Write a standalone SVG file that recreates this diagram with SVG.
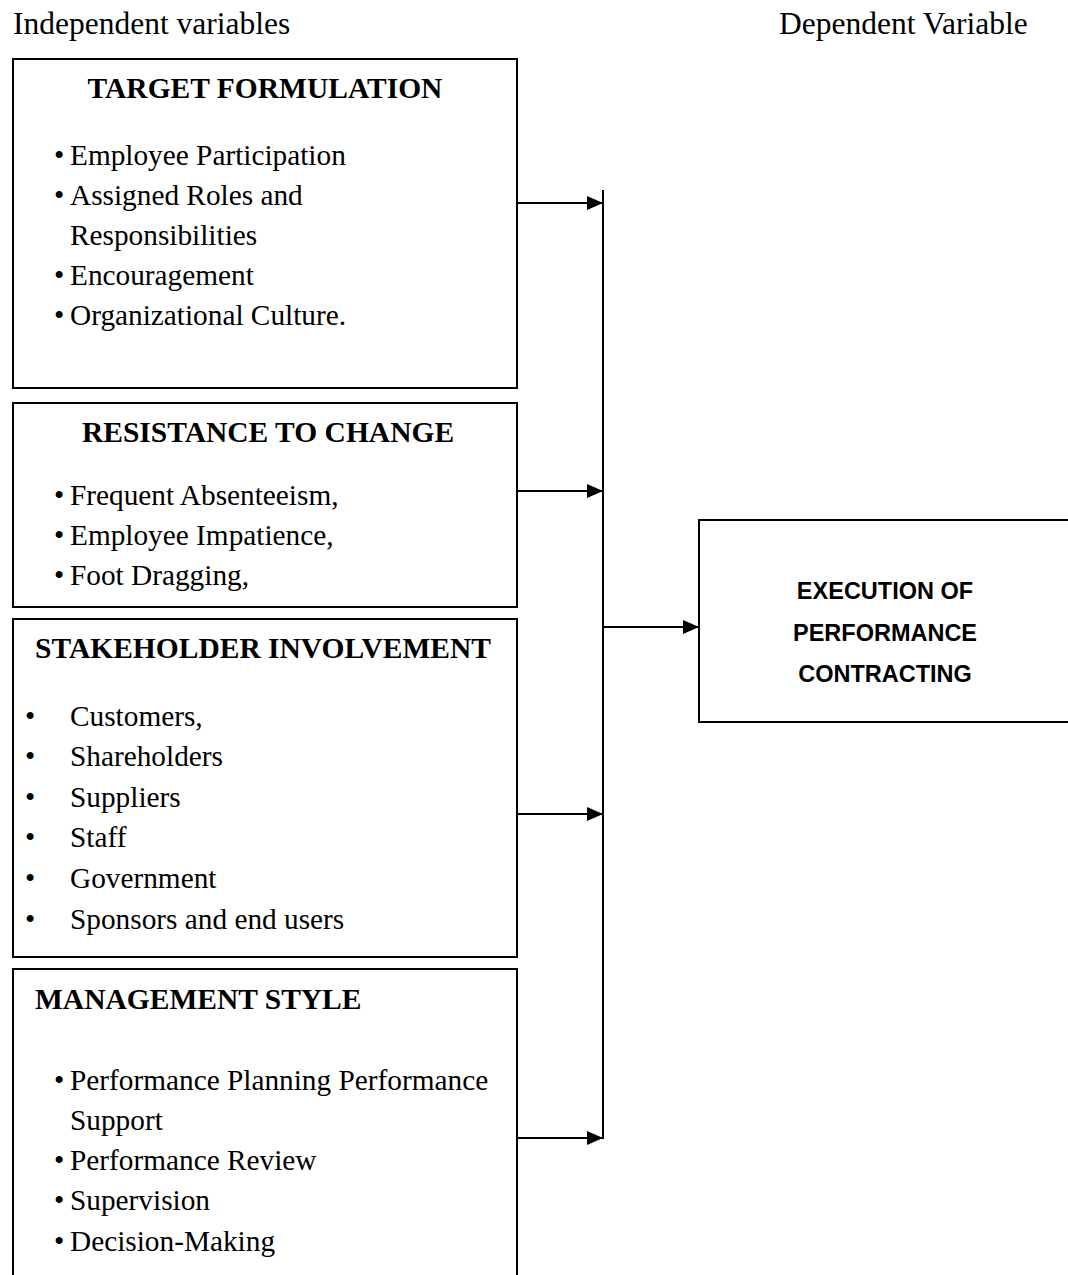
<svg xmlns="http://www.w3.org/2000/svg" width="1068" height="1275" viewBox="0 0 1068 1275">
<style>
text{font-family:"Liberation Serif","Times New Roman",serif;fill:#000}
.hdr{font-size:31.5px}
.t{font-size:29.5px;font-weight:bold}
.b{font-size:29.3px}
.box{fill:#fff;stroke:#000;stroke-width:2}
.c{stroke:#000;stroke-width:2;fill:none}
.dep{font-family:"Liberation Sans",Arial,sans-serif;font-size:23.5px;font-weight:bold}
</style>
<defs>
<marker id="ah" markerWidth="16" markerHeight="14" refX="16" refY="7" orient="auto" markerUnits="userSpaceOnUse">
<path d="M0,0 L16,7 L0,14 Z" fill="#000"/>
</marker>
</defs>
<rect width="1068" height="1275" fill="#fff"/>
<text class="hdr" x="13" y="34">Independent variables</text>
<text class="hdr" x="779" y="34">Dependent Variable</text>

<g id="target-formulation">
<rect class="box" x="13" y="59" width="504" height="329"/>
<text class="t" x="265" y="98" text-anchor="middle">TARGET FORMULATION</text>
<text class="b" x="54" y="165">•</text><text class="b" x="70" y="165">Employee Participation</text>
<text class="b" x="54" y="205">•</text><text class="b" x="70" y="205">Assigned Roles and</text>
<text class="b" x="70" y="245">Responsibilities</text>
<text class="b" x="54" y="285">•</text><text class="b" x="70" y="285">Encouragement</text>
<text class="b" x="54" y="325">•</text><text class="b" x="70" y="325">Organizational Culture.</text>
</g>

<g id="resistance-to-change">
<rect class="box" x="13" y="403" width="504" height="204"/>
<text class="t" x="268" y="442" text-anchor="middle">RESISTANCE TO CHANGE</text>
<text class="b" x="54" y="505">•</text><text class="b" x="70" y="505">Frequent Absenteeism,</text>
<text class="b" x="54" y="545">•</text><text class="b" x="70" y="545">Employee Impatience,</text>
<text class="b" x="54" y="585">•</text><text class="b" x="70" y="585">Foot Dragging,</text>
</g>

<g id="stakeholder-involvement">
<rect class="box" x="13" y="619" width="504" height="338"/>
<text class="t" x="263" y="658" text-anchor="middle">STAKEHOLDER INVOLVEMENT</text>
<text class="b" x="25" y="726">•</text><text class="b" x="70" y="726">Customers,</text>
<text class="b" x="25" y="766">•</text><text class="b" x="70" y="766">Shareholders</text>
<text class="b" x="25" y="807">•</text><text class="b" x="70" y="807">Suppliers</text>
<text class="b" x="25" y="847">•</text><text class="b" x="70" y="847">Staff</text>
<text class="b" x="25" y="888">•</text><text class="b" x="70" y="888">Government</text>
<text class="b" x="25" y="929">•</text><text class="b" x="70" y="929">Sponsors and end users</text>
</g>

<g id="management-style">
<path class="box" d="M13,1276 L13,969 L517,969 L517,1276"/>
<text class="t" x="35" y="1009">MANAGEMENT STYLE</text>
<text class="b" x="54" y="1090">•</text><text class="b" x="70" y="1090">Performance Planning Performance</text>
<text class="b" x="70" y="1130">Support</text>
<text class="b" x="54" y="1170">•</text><text class="b" x="70" y="1170">Performance Review</text>
<text class="b" x="54" y="1210">•</text><text class="b" x="70" y="1210">Supervision</text>
<text class="b" x="54" y="1251">•</text><text class="b" x="70" y="1251">Decision-Making</text>
</g>

<g id="execution-of-performance-contracting">
<rect class="box" x="699" y="520" width="380" height="202"/>
<text class="dep" x="885" y="599" text-anchor="middle">EXECUTION OF</text>
<text class="dep" x="885" y="641" text-anchor="middle">PERFORMANCE</text>
<text class="dep" x="885" y="682" text-anchor="middle">CONTRACTING</text>
</g>

<g id="connectors">
<line class="c" x1="603" y1="190" x2="603" y2="1139"/>
<line class="c" x1="517" y1="203" x2="603" y2="203" marker-end="url(#ah)"/>
<line class="c" x1="517" y1="491" x2="603" y2="491" marker-end="url(#ah)"/>
<line class="c" x1="517" y1="814" x2="603" y2="814" marker-end="url(#ah)"/>
<line class="c" x1="517" y1="1138" x2="603" y2="1138" marker-end="url(#ah)"/>
<line class="c" x1="603" y1="627" x2="699" y2="627" marker-end="url(#ah)"/>
</g>
</svg>
